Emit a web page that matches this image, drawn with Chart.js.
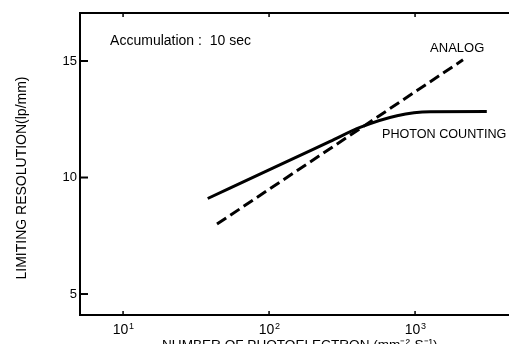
<!DOCTYPE html>
<html>
<head>
<meta charset="utf-8">
<script src="https://cdn.jsdelivr.net/npm/chart.js@4/dist/chart.umd.min.js"></script>
<style>
  html, body { margin: 0; padding: 0; background: #fff; }
  #wrap { width: 509px; height: 344px; }
</style>
</head>
<body>
<div id="wrap"><canvas id="chart" width="509" height="344"></canvas></div>
<script>
// data
const photonX = [38, 106, 262, 420, 753, 1270, 3100];
const photonY = [9.1, 10.4, 11.55, 12.15, 12.65, 12.82, 12.83];
const analogX = [44, 2130];
const analogY = [8.0, 15.05];

const yTicks = [5, 10, 15];
const xTicks = [10, 100, 1000];
const xTickExp = ['1', '2', '3'];

const FONT = '"Liberation Sans", Arial, sans-serif';

// text notes placed in data coordinates
const notes = [
  { text: 'Accumulation :  10 sec', x: 8.15, y: 15.84, size: 14 },
  { text: 'ANALOG', x: 1268, y: 15.54, size: 13 },
  { text: 'PHOTON COUNTING', x: 594, y: 11.85, size: 12.6 }
];

function toPoints(xs, ys) {
  return xs.map((x, i) => ({ x: x, y: ys[i] }));
}

const framePlugin = {
  id: 'frame',
  afterDraw(chart) {
    const ctx = chart.ctx;
    const area = chart.chartArea;
    const xs = chart.scales.x;
    const ys = chart.scales.y;
    ctx.save();
    ctx.strokeStyle = '#000';
    ctx.fillStyle = '#000';
    ctx.lineWidth = 2;
    // left, bottom, top lines (no right edge in the scan)
    ctx.beginPath();
    ctx.moveTo(area.right, area.top);
    ctx.lineTo(area.left, area.top);
    ctx.lineTo(area.left, area.bottom);
    ctx.lineTo(area.right, area.bottom);
    ctx.stroke();

    // y ticks, pointing inward
    ctx.font = '13px ' + FONT;
    ctx.textAlign = 'right';
    ctx.textBaseline = 'middle';
    yTicks.forEach(v => {
      const py = ys.getPixelForValue(v);
      ctx.beginPath();
      ctx.moveTo(area.left, py);
      ctx.lineTo(area.left + 8, py);
      ctx.stroke();
      ctx.fillText(String(v), area.left - 3, py);
    });

    // x ticks top and bottom
    ctx.lineWidth = 1.5;
    xTicks.forEach((v, i) => {
      const px = xs.getPixelForValue(v);
      ctx.beginPath();
      ctx.moveTo(px, area.bottom);
      ctx.lineTo(px, area.bottom - 4);
      ctx.moveTo(px, area.top);
      ctx.lineTo(px, area.top + 4);
      ctx.stroke();
      ctx.font = '14px ' + FONT;
      ctx.textAlign = 'center';
      ctx.textBaseline = 'alphabetic';
      ctx.fillText('10', px - 2.5, area.bottom + 19);
      ctx.font = '9px ' + FONT;
      ctx.textAlign = 'left';
      ctx.fillText(xTickExp[i], px + 6, area.bottom + 14);
    });

    // axis titles
    ctx.font = '13.6px ' + FONT;
    ctx.textAlign = 'left';
    ctx.textBaseline = 'alphabetic';
    ctx.fillText('NUMBER OF PHOTOELECTRON (mm\u207B\u00B2\u00B7S\u207B\u00B9)', 162, 349);

    ctx.save();
    ctx.font = '14px ' + FONT;
    ctx.translate(26, 178);
    ctx.rotate(-Math.PI / 2);
    ctx.textAlign = 'center';
    ctx.fillText('LIMITING RESOLUTION(lp/mm)', 0, 0);
    ctx.restore();

    // notes
    ctx.textAlign = 'left';
    ctx.textBaseline = 'middle';
    notes.forEach(n => {
      ctx.font = n.size + 'px ' + FONT;
      ctx.fillText(n.text, xs.getPixelForValue(n.x), ys.getPixelForValue(n.y));
    });
    ctx.restore();
  }
};

new Chart(document.getElementById('chart'), {
  type: 'line',
  data: {
    datasets: [{
      label: 'PHOTON COUNTING',
      data: toPoints(photonX, photonY),
      borderColor: '#000',
      borderWidth: 3,
      pointRadius: 0,
      cubicInterpolationMode: 'monotone',
      fill: false
    }, {
      label: 'ANALOG',
      data: toPoints(analogX, analogY),
      borderColor: '#000',
      borderWidth: 3,
      borderDash: [11, 5],
      pointRadius: 0,
      fill: false
    }]
  },
  options: {
    responsive: false,
    animation: false,
    layout: { padding: { left: 80, top: 13, right: 0, bottom: 29 } },
    plugins: { legend: { display: false }, tooltip: { enabled: false } },
    scales: {
      x: { type: 'logarithmic', min: 5.07, max: 4400, display: false },
      y: { type: 'linear', min: 4.1, max: 17.06, display: false }
    }
  },
  plugins: [framePlugin]
});
</script>
</body>
</html>
